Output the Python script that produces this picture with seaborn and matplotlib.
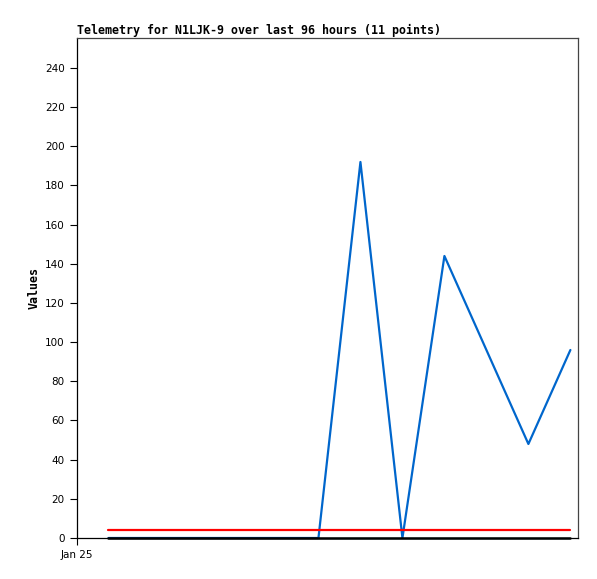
"""Telemetry line chart for N1LJK-9."""

import matplotlib
matplotlib.use("Agg")
import matplotlib.pyplot as plt
import pandas as pd
import seaborn as sns

# hours since Jan 25 00:00
hours = [6, 14, 22, 30, 38, 46, 54, 62, 70, 78, 86, 94]
values = [0, 0, 0, 0, 0, 0, 192, 0, 144, 96, 48, 96]
upper_ref = [4] * len(hours)
zero_ref = [0] * len(hours)
y_ticks = list(range(0, 241, 20))
x_tick_hours = [0]
x_tick_labels = ["Jan 25"]

sns.set_style("white")
plt.rcParams["font.family"] = ["DejaVu Sans"]
plt.rcParams["text.color"] = "black"
plt.rcParams["axes.labelcolor"] = "black"
plt.rcParams["xtick.color"] = "black"
plt.rcParams["ytick.color"] = "black"

fig = plt.figure(figsize=(5.97, 5.79), dpi=100)
ax = fig.add_axes([77 / 597, 1 - 538 / 579, 501 / 597, 500 / 579])

df = pd.DataFrame({"hours": hours, "value": values, "upper": upper_ref, "zero": zero_ref})

sns.lineplot(data=df, x="hours", y="value", ax=ax, color="#0066cc", linewidth=1.6, clip_on=False)
sns.lineplot(data=df, x="hours", y="upper", ax=ax, color="#ff0000", linewidth=1.6, clip_on=False)
sns.lineplot(data=df, x="hours", y="zero", ax=ax, color="#000000", linewidth=1.8, clip_on=False)

ax.set_xlim(0, 95.45)
ax.set_ylim(0, 255.3)
ax.set_yticks(y_ticks)
ax.set_xticks(x_tick_hours)
ax.set_xticklabels(x_tick_labels)
ax.tick_params(axis="both", direction="out", length=5, width=0.8, color="black",
               labelcolor="black", labelsize=7.5, pad=4, left=True, bottom=True)

for side in ["left", "bottom"]:
    ax.spines[side].set_color("black")
    ax.spines[side].set_linewidth(0.9)
for side in ["top", "right"]:
    ax.spines[side].set_color("#444444")
    ax.spines[side].set_linewidth(0.9)
    ax.spines[side].set_visible(True)

ax.set_xlabel("")
ax.set_ylabel("Values", family="DejaVu Sans Mono", fontweight="bold", fontsize=8.4,
              color="black", labelpad=3)
ax.set_title("Telemetry for N1LJK-9 over last 96 hours (11 points)", loc="left",
             family="DejaVu Sans Mono", fontweight="bold", fontsize=8.4, color="black", pad=3)

plt.savefig("out.png", dpi=100)
plt.close(fig)
